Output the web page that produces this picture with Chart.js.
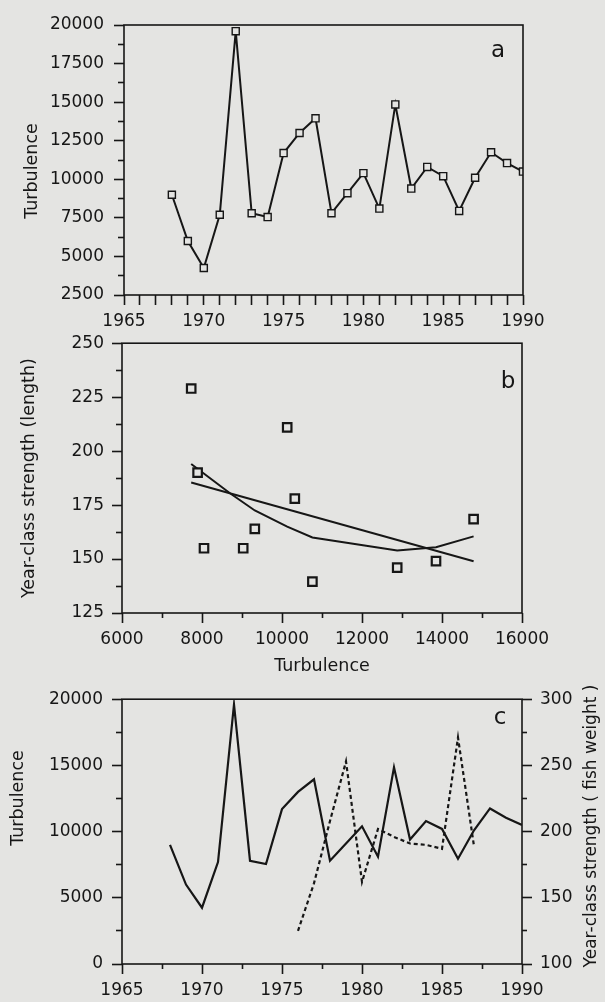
<!doctype html>
<html lang="en">
<head>
<meta charset="utf-8">
<style>
  * { margin: 0; padding: 0; }
  body { width: 605px; height: 1002px; background: #e4e4e2; position: relative; overflow: hidden; }
  canvas { position: absolute; left: 0; }
  #chartA { top: 0; }
  #chartB { top: 325px; }
  #chartC { top: 680px; }
</style>
</head>
<body>
<canvas id="chartA" width="605" height="335"></canvas>
<canvas id="chartB" width="605" height="360"></canvas>
<canvas id="chartC" width="605" height="322"></canvas>

<script src="https://cdn.jsdelivr.net/npm/chart.js/dist/chart.umd.min.js"></script>
<script>
// data
const years = [1968, 1969, 1970, 1971, 1972, 1973, 1974, 1975, 1976, 1977, 1978, 1979,
               1980, 1981, 1982, 1983, 1984, 1985, 1986, 1987, 1988, 1989, 1990];
const turbulence = [9000, 6000, 4250, 7700, 19600, 7800, 7550, 11700, 13000, 13950, 7800, 9100,
                    10400, 8100, 14850, 9400, 10800, 10200, 7950, 10100, 11750, 11050, 10500];

const fishYears = [1976, 1977, 1978, 1979, 1980, 1981, 1982, 1983, 1984, 1985, 1986, 1987];
const fishWeight = [125, 161, 208, 253, 162, 202, 196, 191, 190, 187, 271, 189];

const lengthTurb = [7730, 7890, 8050, 9030, 9320, 10130, 10320, 10760, 12880, 13850, 14790];
const lengthStrength = [229, 190, 155, 155, 164, 211, 178, 139.5, 146, 149, 168.5];

const fitTurb = [7730, 14790];
const fitStrength = [185.5, 149];

const smoothTurb = [7730, 8700, 9320, 10130, 10760, 12880, 13850, 14790];
const smoothStrength = [194, 180.5, 172.5, 165, 160, 154, 155.5, 160.5];

const ink = '#161616';
const paper = '#e4e4e2';
const fontFamily = "'DejaVu Sans', sans-serif";

Chart.defaults.font.family = fontFamily;
Chart.defaults.font.size = 17;
Chart.defaults.color = ink;

function xy(xs, ys) {
  return xs.map((x, i) => ({ x: x, y: ys[i] }));
}

// box round the plot area
const frame = {
  id: 'frame',
  afterDraw(chart) {
    const { ctx, chartArea: { left, top, right, bottom } } = chart;
    ctx.save();
    ctx.lineWidth = 1.6;
    ctx.strokeStyle = ink;
    ctx.strokeRect(left, top, right - left, bottom - top);
    ctx.restore();
  }
};

// panel letters and side titles
function notes(items) {
  return {
    id: 'notes',
    afterDraw(chart) {
      const ctx = chart.ctx;
      items.forEach(item => {
        ctx.save();
        ctx.translate(item.x, item.y);
        if (item.rotate) ctx.rotate(-Math.PI / 2);
        ctx.font = item.size + 'px ' + fontFamily;
        ctx.fillStyle = ink;
        ctx.textAlign = 'center';
        ctx.textBaseline = 'middle';
        ctx.fillText(item.text, 0, 0);
        ctx.restore();
      });
    }
  };
}

// linear axis with long labelled ticks and short minor ticks
function makeAxis({ position, min, max, step, major, size, pad, title, allLong }) {
  const isMajor = v => Math.abs(v / major - Math.round(v / major)) < 1e-6;
  const isShort = ctx => !allLong && ctx.tick && !isMajor(ctx.tick.value);
  return {
    type: 'linear',
    position,
    min,
    max,
    border: { display: false },
    grid: {
      drawOnChartArea: false,
      tickLength: 10,
      tickWidth: 1.6,
      tickColor: ink,
      tickBorderDash: ctx => isShort(ctx) ? (position === 'left' ? [6, 4] : [5, 30]) : [],
      tickBorderDashOffset: ctx => (isShort(ctx) && position === 'left') ? 6 : 0
    },
    ticks: {
      stepSize: step,
      autoSkip: false,
      maxRotation: 0,
      padding: pad,
      callback: v => isMajor(v) ? String(v) : ''
    },
    title: title || { display: false },
    afterFit(scale) {
      if (scale.isHorizontal()) scale.height = size;
      else scale.width = size;
    }
  };
}

const quiet = {
  legend: { display: false },
  tooltip: { enabled: false }
};

// panel a
new Chart(document.getElementById('chartA'), {
  type: 'line',
  data: {
    datasets: [{
      data: xy(years, turbulence),
      borderColor: ink,
      borderWidth: 2,
      pointStyle: 'rect',
      pointRadius: 5,
      pointBorderWidth: 1.4,
      pointBorderColor: ink,
      pointBackgroundColor: paper
    }]
  },
  options: {
    responsive: false,
    animation: false,
    layout: { padding: { top: 25, right: 82, left: 0, bottom: 0 } },
    scales: {
      x: makeAxis({ position: 'bottom', min: 1965, max: 1990, step: 1, major: 5, size: 40, pad: 6, allLong: true }),
      y: makeAxis({ position: 'left', min: 2500, max: 20000, step: 1250, major: 2500, size: 124, pad: 10 })
    },
    plugins: quiet
  },
  plugins: [frame, notes([
    { text: 'Turbulence', x: 32, y: 171, size: 17.5, rotate: true },
    { text: 'a', x: 498, y: 51, size: 23 }
  ])]
});

// panel b
new Chart(document.getElementById('chartB'), {
  type: 'scatter',
  data: {
    datasets: [{
      data: xy(lengthTurb, lengthStrength),
      pointStyle: 'rect',
      pointRadius: 6,
      pointBorderWidth: 2.2,
      pointBorderColor: ink,
      pointBackgroundColor: paper
    }, {
      data: xy(fitTurb, fitStrength),
      showLine: true,
      borderColor: ink,
      borderWidth: 2,
      pointRadius: 0
    }, {
      data: xy(smoothTurb, smoothStrength),
      showLine: true,
      borderColor: ink,
      borderWidth: 2,
      pointRadius: 0
    }]
  },
  options: {
    responsive: false,
    animation: false,
    layout: { padding: { top: 18, right: 83, left: 0, bottom: 0 } },
    scales: {
      x: makeAxis({
        position: 'bottom', min: 6000, max: 16000, step: 1000, major: 2000, size: 72, pad: 6,
        title: { display: true, text: 'Turbulence', font: { size: 17.5 }, padding: { top: 0, bottom: 8 } }
      }),
      y: makeAxis({
        position: 'left', min: 125, max: 250, step: 12.5, major: 25, size: 122, pad: 8,
        title: { display: true, text: 'Year-class strength (length)', font: { size: 17.5 }, padding: { top: 19, bottom: 0 } }
      })
    },
    plugins: quiet
  },
  plugins: [frame, notes([
    { text: 'b', x: 508, y: 57, size: 23 }
  ])]
});

// panel c
new Chart(document.getElementById('chartC'), {
  type: 'line',
  data: {
    datasets: [{
      data: xy(years, turbulence),
      yAxisID: 'y',
      borderColor: ink,
      borderWidth: 2.2,
      pointRadius: 0
    }, {
      data: xy(fishYears, fishWeight),
      yAxisID: 'y1',
      borderColor: ink,
      borderWidth: 2.2,
      borderDash: [4, 3],
      pointRadius: 0
    }]
  },
  options: {
    responsive: false,
    animation: false,
    layout: { padding: { top: 14, right: 0, left: 0, bottom: 0 } },
    scales: {
      x: makeAxis({ position: 'bottom', min: 1965, max: 1990, step: 2.5, major: 5, size: 38, pad: 6 }),
      y: makeAxis({ position: 'left', min: 0, max: 20000, step: 2500, major: 5000, size: 122, pad: 9 }),
      y1: makeAxis({ position: 'right', min: 100, max: 300, step: 25, major: 50, size: 83, pad: 8 })
    },
    plugins: quiet
  },
  plugins: [frame, notes([
    { text: 'Turbulence', x: 18, y: 118, size: 17.5, rotate: true },
    { text: 'Year-class strength ( fish weight )', x: 592, y: 146, size: 17, rotate: true },
    { text: 'c', x: 500, y: 38, size: 23 }
  ])]
});
</script>
</body>
</html>
